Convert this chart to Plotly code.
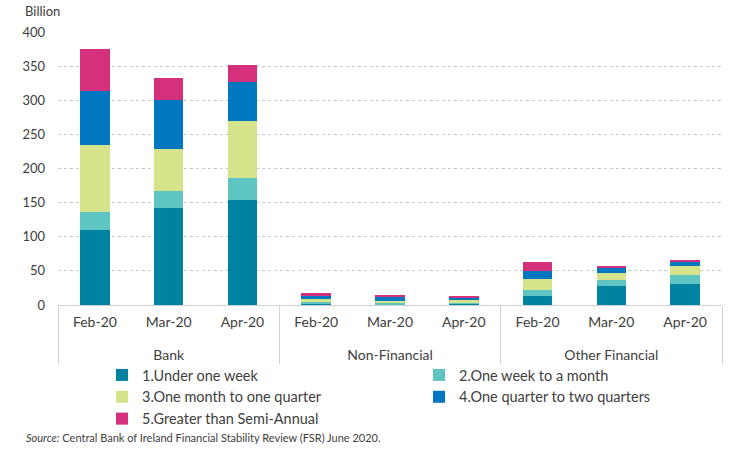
import plotly.graph_objects as go

groups = ["Bank"] * 3 + ["Non-Financial"] * 3 + ["Other Financial"] * 3
months = ["Feb-20", "Mar-20", "Apr-20"] * 3

under_week = [110, 142, 154, 2, 1, 1.5, 13, 28, 31]
week_month = [26, 25, 32, 2.5, 1.5, 2, 9, 9, 13]
month_quarter = [98, 61, 83, 4.5, 4, 4, 16, 10, 13]
quarter_two = [79, 72, 58, 4.5, 4.5, 3.5, 12, 8, 7]
semi_annual = [62, 32, 24, 4.5, 3, 2.5, 13, 2.6, 2]

series = [
    ("1.Under one week", under_week, "#0083a1"),
    ("2.One week to a month", week_month, "#5ec5c2"),
    ("3.One month to one quarter", month_quarter, "#d5e38a"),
    ("4.One quarter to two quarters", quarter_two, "#0077c1"),
    ("5.Greater than Semi-Annual", semi_annual, "#d4307c"),
]

W, H = 756, 450
L, R, T, B = 58, 34, 32, 145
pw, ph = W - L - R, H - T - B


def px(x):
    return (x - L) / pw


def py(y):
    return (H - B - y) / ph


# group labels pushed one line down so they sit below the month labels
group_labels = ["<br>" + g for g in groups]

font = "Lato, 'Open Sans', sans-serif"
fig = go.Figure()
for name, vals, col in series:
    fig.add_trace(go.Bar(x=[group_labels, months], y=vals, name=name,
                         marker=dict(color=col, line=dict(width=0))))

fig.update_layout(
    barmode="stack", bargap=0.6,
    width=W, height=H,
    margin=dict(l=L, r=R, t=T, b=B, autoexpand=False),
    plot_bgcolor="white", paper_bgcolor="white",
    font=dict(family=font, size=14, color="#404040"),
    showlegend=True,
    legend=dict(orientation="h", x=px(102), y=py(359), xanchor="left", yanchor="top",
                entrywidth=272, entrywidthmode="pixels", traceorder="normal",
                font=dict(size=14.5, color="#404040"),
                tracegroupgap=0, bgcolor="rgba(0,0,0,0)"),
    xaxis=dict(type="multicategory", showdividers=True, dividercolor="#d0d0d0",
               dividerwidth=1, showline=True, linecolor="#d0d0d0",
               ticks="", ticklabelstandoff=4,
               automargin=False,
               tickfont=dict(size=14, color="#404040")),
    yaxis=dict(range=[0, 400], dtick=50, showgrid=True, gridcolor="#c8c8c8",
               griddash="dot", zeroline=False, showline=False, automargin=False,
               ticklabelstandoff=12,
               tickfont=dict(size=13, color="#404040")),
    annotations=[
        dict(text="Billion", x=px(23), y=py(11), xref="paper", yref="paper",
             xanchor="left", yanchor="middle",
             showarrow=False, font=dict(size=13, color="#404040")),
        dict(text="<i>Source:</i> Central Bank of Ireland Financial Stability Review (FSR) June 2020.",
             x=px(24), y=py(437), xref="paper", yref="paper", showarrow=False,
             xanchor="left", yanchor="middle",
             font=dict(size=11, color="#404040")),
    ],
)

fig.write_html("out.html", config={"displayModeBar": False},
               post_script="document.body.style.margin='0px';")
